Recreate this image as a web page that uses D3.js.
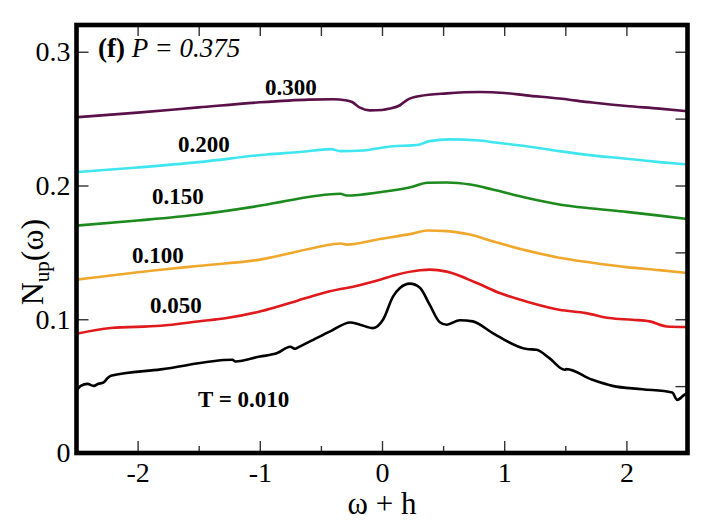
<!DOCTYPE html>
<html>
<head>
<meta charset="utf-8">
<script src="https://cdn.jsdelivr.net/npm/d3@7"></script>
<style>
  html, body { margin: 0; padding: 0; background: #fff; }
  svg { display: block; }
</style>
</head>
<body>
<script>
// spectra N_up(omega), one array per temperature
const t300 = [[-2.5,0.2510],[-2.0,0.2545],[-1.5,0.2584],[-1.0,0.2622],[-0.6,0.2642],[-0.4,0.2645],[-0.3,0.2638],[-0.245,0.2624],
  [-0.18,0.2582],[-0.1,0.2562],[0.0,0.2565],[0.065,0.2575],[0.147,0.2600],[0.204,0.2639],[0.31,0.2669],[0.53,0.2689],
  [0.8,0.2699],[1.0,0.2692],[1.18,0.2674],[1.45,0.2650],[1.72,0.2620],[2.0,0.2594],[2.27,0.2575],[2.5,0.2555]];
const t200 = [[-2.5,0.2100],[-2.0,0.2135],[-1.5,0.2175],[-0.94,0.2232],[-0.67,0.2251],[-0.42,0.2272],[-0.34,0.2257],[-0.155,0.2262],
  [0.09,0.2294],[0.25,0.2300],[0.31,0.2307],[0.39,0.2332],[0.555,0.2345],[0.8,0.2337],[0.906,0.2324],[1.18,0.2294],
  [1.45,0.2257],[1.72,0.2225],[2.0,0.2200],[2.27,0.2175],[2.5,0.2157]];
const t150 = [[-2.5,0.1700],[-2.0,0.1738],[-1.5,0.1783],[-0.94,0.1858],[-0.56,0.1920],[-0.34,0.1938],[-0.29,0.1925],[-0.016,0.1950],
  [0.25,0.1990],[0.37,0.2020],[0.53,0.2022],[0.72,0.2007],[0.906,0.1970],[1.18,0.1908],[1.45,0.1858],[1.72,0.1828],
  [2.0,0.1803],[2.27,0.1775],[2.5,0.1750]];
const t100 = [[-2.5,0.1296],[-1.81,0.1370],[-1.49,0.1400],[-1.0,0.1446],[-0.56,0.1533],[-0.34,0.1566],[-0.29,0.1558],[-0.016,0.1600],
  [0.25,0.1640],[0.37,0.1663],[0.53,0.1659],[0.72,0.1633],[0.906,0.1583],[1.18,0.1515],[1.45,0.1460],[1.72,0.1423],
  [2.0,0.1390],[2.27,0.1367],[2.5,0.1346]];
const t050 = [[-2.5,0.0891],[-2.22,0.0934],[-1.81,0.0951],[-1.49,0.0985],[-1.27,0.1009],[-1.0,0.1058],[-0.686,0.1141],[-0.56,0.1176],
  [-0.34,0.1226],[-0.29,0.1234],[-0.016,0.1296],[0.12,0.1333],[0.31,0.1366],[0.39,0.1371],[0.53,0.1356],[0.776,0.1271],
  [0.963,0.1196],[1.18,0.1133],[1.45,0.1071],[1.67,0.1046],[1.86,0.1009],[2.05,0.0996],[2.19,0.0984],[2.33,0.0946],[2.5,0.0942]];
const t010 = [[-2.5,0.0465],[-2.465,0.0502],[-2.41,0.0517],[-2.36,0.0502],[-2.32,0.0517],[-2.28,0.0527],[-2.245,0.0560],[-2.22,0.0577],
  [-1.81,0.0625],[-1.224,0.0697],[-1.2,0.0684],[-1.0,0.0721],[-0.857,0.0747],[-0.751,0.0794],[-0.71,0.0779],[-0.686,0.0790],
  [-0.563,0.0846],[-0.424,0.0909],[-0.26,0.0976],[-0.18,0.0959],[-0.073,0.0934],[0.008,0.0996],[0.09,0.1169],[0.147,0.1234],
  [0.229,0.1266],[0.31,0.1236],[0.39,0.1109],[0.473,0.0978],[0.53,0.0959],[0.637,0.0993],[0.743,0.0984],[0.906,0.0897],
  [1.184,0.0777],[1.265,0.0772],[1.37,0.0709],[1.494,0.0622],[1.51,0.0627],[1.722,0.0547],[1.886,0.0502],[2.13,0.0477],
  [2.375,0.0452],[2.416,0.0397],[2.473,0.0434],[2.5,0.0450]];

const seriesData = [t300, t200, t150, t100, t050, t010];
const seriesLabels = ["0.300", "0.200", "0.150", "0.100", "0.050", "T = 0.010"];
const seriesColors = ["#5a1048", "#3fe6f0", "#1d8a1d", "#f0a82c", "#e01a1c", "#000000"];
// label anchor (left end, baseline) in data units
const labelX = [-0.957, -1.669, -1.882, -2.046, -1.898, -1.506];
const labelY = [0.2677, 0.2250, 0.1862, 0.1421, 0.1047, 0.0344];

const xMajor = [-2, -1, 0, 1, 2];
const xMinor = [-1.5, -0.5, 0.5, 1.5];
const yMajor = [0, 0.1, 0.2, 0.3];
const yRight = [0.05, 0.1, 0.15, 0.2, 0.25, 0.3];

const width = 718, height = 521;
const margin = { left: 76.5, right: 30.5, top: 25, bottom: 68 };
const font = "'Liberation Serif', 'Times New Roman', serif";

const x = d3.scaleLinear().domain([-2.5, 2.5]).range([margin.left, width - margin.right]);
const y = d3.scaleLinear().domain([0, 0.32]).range([height - margin.bottom, margin.top]);

const svg = d3.select("body").append("svg")
    .attr("width", width)
    .attr("height", height)
    .style("background", "#fff");

const fmt = d => d === 0 ? "0" : d3.format(".1f")(d);

function styleAxis(g) {
    g.attr("font-family", font);
    g.select(".domain").remove();
    g.selectAll(".tick line").attr("stroke", "#333").attr("stroke-width", 1.4);
    g.selectAll(".tick text")
        .attr("fill", "#000")
        .style("font-family", font)
        .style("font-size", "28px");
}

// bottom axis, major with labels and minor ticks
svg.append("g")
    .attr("transform", `translate(0,${y(0)})`)
    .call(d3.axisBottom(x).tickValues(xMajor).tickSize(-12).tickPadding(9).tickFormat(d => String(d)))
    .call(styleAxis);
svg.append("g")
    .attr("transform", `translate(0,${y(0)})`)
    .call(d3.axisBottom(x).tickValues(xMinor).tickSize(-7).tickFormat(""))
    .call(styleAxis);

// top mirror ticks
svg.append("g")
    .attr("transform", `translate(0,${margin.top})`)
    .call(d3.axisTop(x).tickValues(xMajor.concat(xMinor)).tickSize(-11).tickFormat(""))
    .call(styleAxis);

// left axis
svg.append("g")
    .attr("transform", `translate(${margin.left},0)`)
    .call(d3.axisLeft(y).tickValues(yMajor).tickSize(-12).tickPadding(6).tickFormat(fmt))
    .call(styleAxis);

// right mirror ticks
svg.append("g")
    .attr("transform", `translate(${width - margin.right},0)`)
    .call(d3.axisRight(y).tickValues(yRight).tickSize(-12).tickFormat(""))
    .call(styleAxis);

const line = d3.line()
    .x(d => x(d[0]))
    .y(d => y(d[1]))
    .curve(d3.curveMonotoneX);

svg.append("defs").append("clipPath").attr("id", "plotclip")
    .append("rect")
    .attr("x", margin.left).attr("y", margin.top)
    .attr("width", width - margin.left - margin.right)
    .attr("height", height - margin.top - margin.bottom);

svg.append("g")
    .attr("clip-path", "url(#plotclip)")
    .attr("fill", "none")
    .attr("stroke-width", 2.6)
    .attr("stroke-linejoin", "round")
    .selectAll("path")
    .data(seriesData)
    .join("path")
    .attr("stroke", (d, i) => seriesColors[i])
    .attr("d", line);

// curve labels
svg.append("g")
    .selectAll("text")
    .data(seriesLabels)
    .join("text")
    .attr("x", (d, i) => x(labelX[i]))
    .attr("y", (d, i) => y(labelY[i]))
    .style("font-family", font)
    .style("font-size", "23px")
    .style("font-weight", "bold")
    .attr("fill", "#000")
    .text(d => d);

// panel title
const title = svg.append("text")
    .attr("x", x(-2.324))
    .attr("y", y(0.296))
    .style("font-family", font)
    .style("font-size", "27px")
    .attr("fill", "#000");
title.append("tspan").style("font-weight", "bold").text("(f)");
title.append("tspan").style("font-style", "italic").text(" P = 0.375");

// frame
svg.append("rect")
    .attr("x", margin.left)
    .attr("y", margin.top)
    .attr("width", width - margin.left - margin.right)
    .attr("height", height - margin.top - margin.bottom)
    .attr("fill", "none")
    .attr("stroke", "#000")
    .attr("stroke-width", 4.6);

// axis titles
svg.append("text")
    .attr("x", x(0))
    .attr("y", 514)
    .attr("text-anchor", "middle")
    .style("font-family", font)
    .style("font-size", "31px")
    .attr("fill", "#000")
    .text("ω + h");

const ytitle = svg.append("text")
    .attr("transform", "translate(43,262) rotate(-90)")
    .attr("text-anchor", "middle")
    .style("font-family", font)
    .style("font-size", "32px")
    .attr("fill", "#000");
ytitle.append("tspan").text("N");
ytitle.append("tspan").attr("dy", 6).style("font-size", "21px").text("up");
ytitle.append("tspan").attr("dy", -6).text("(ω)");
</script>
</body>
</html>
